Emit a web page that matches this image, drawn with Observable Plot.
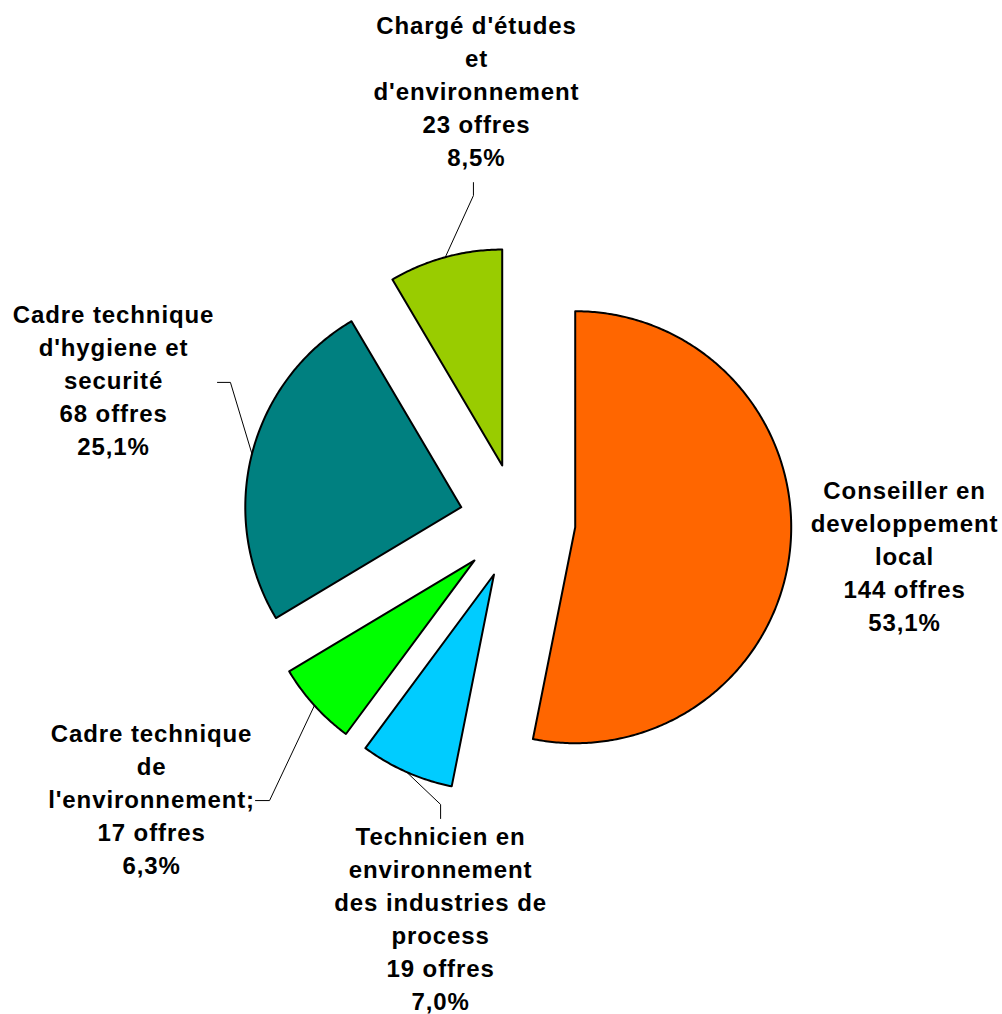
<!DOCTYPE html>
<html><head><meta charset="utf-8">
<script src="https://cdn.jsdelivr.net/npm/d3@7"></script>
<script src="https://cdn.jsdelivr.net/npm/@observablehq/plot@0.6"></script>
<style>
html,body{margin:0;padding:0;background:#fff;}
#chart svg text{letter-spacing:0.9px;}
</style></head><body><div id="chart"></div>
<script>
// ---- data ----
const categories = [
  "Conseiller en\ndeveloppement\nlocal",
  "Technicien en\nenvironnement\ndes industries de\nprocess",
  "Cadre technique\nde\nl'environnement;",
  "Cadre technique\nd'hygiene et\nsecurité",
  "Chargé d'études\net\nd'environnement"
];
const offres = [144, 19, 17, 68, 23];
const colors = ["#FF6600", "#00CCFF", "#00FF00", "#008080", "#99CC00"];

// ---- layout (units of pie radius, centre at 0,0) ----
const W = 1002, H = 1014;
const R = 216, cx = 517, cy = 521;
const explode = 0.2685;
const labelPos = [[1.792,-0.153],[-0.356,-1.829],[-1.694,-1.278],[-1.870,0.662],[-0.190,1.998]];
const leaderPts = [null,
  [[-0.356,-1.310],[-0.356,-1.375]],
  [[-1.148,-1.292],[-1.213,-1.292]],
  [[-1.329,0.644],[-1.389,0.644]],
  [[-0.204,1.509],[-0.204,1.569]]];

const total = d3.sum(offres);
const pct = v => (v / total * 100).toFixed(1).replace(".", ",") + "%";
const arcs = d3.pie().sort(null).value(d => d)(offres);
const slices = arcs.map((a, i) => {
  const mid = (a.startAngle + a.endAngle) / 2;
  const ox = explode * Math.sin(mid), oy = explode * Math.cos(mid);
  const n = Math.max(8, Math.ceil((a.endAngle - a.startAngle) / 0.01));
  const pts = [{x: ox, y: oy}];
  for (let k = 0; k <= n; k++) {
    const t = a.startAngle + (a.endAngle - a.startAngle) * k / n;
    pts.push({x: ox + Math.sin(t), y: oy + Math.cos(t)});
  }
  return {i, mid, ox, oy, pts};
});
const leaders = slices.filter(s => leaderPts[s.i]).map(s => [
  {x: s.ox + Math.sin(s.mid), y: s.oy + Math.cos(s.mid)},
  ...leaderPts[s.i].map(([x, y]) => ({x, y}))
]);
const labels = offres.map((v, i) => ({
  x: labelPos[i][0], y: labelPos[i][1],
  text: `${categories[i]}\n${v} offres\n${pct(v)}`
}));

const chart = Plot.plot({
  width: W, height: H, margin: 0,
  x: {domain: [-cx / R, (W - cx) / R], axis: null},
  y: {domain: [-(H - cy) / R, cy / R], axis: null},
  style: {background: "#fff"},
  marks: [
    ...slices.map(s => Plot.line(s.pts, {x: "x", y: "y", curve: "linear-closed",
      fill: colors[s.i], stroke: "black", strokeWidth: 2, strokeLinejoin: "round"})),
    ...leaders.map(l => Plot.line(l, {x: "x", y: "y", stroke: "black", strokeWidth: 1})),
    Plot.text(labels, {x: "x", y: "y", text: "text", fontSize: 24, fontWeight: "bold",
      fontFamily: "'Liberation Sans', Arial, sans-serif", lineHeight: 1.375, fill: "black"})
  ]
});
document.getElementById("chart").append(chart);
</script></body></html>
